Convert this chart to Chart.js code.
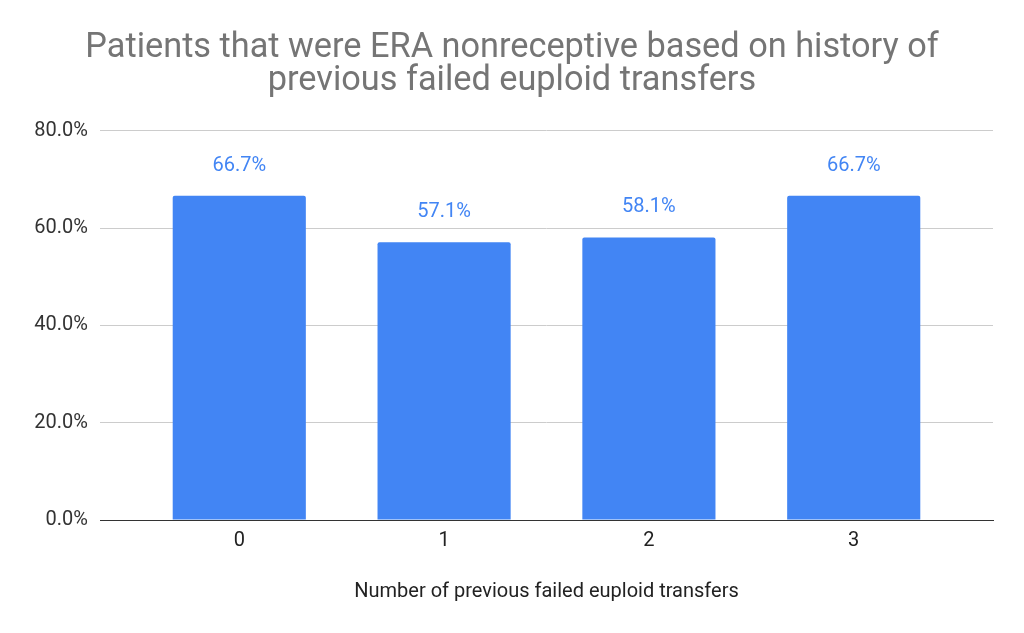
<!DOCTYPE html>
<html>
<head>
<meta charset="utf-8">
<script src="https://cdn.jsdelivr.net/npm/chart.js@4/dist/chart.umd.min.js"></script>
<style>
html,body{margin:0;padding:0;background:#fff;}
#wrap{width:1024px;height:633px;}
</style>
</head>
<body>
<div id="wrap"><canvas id="c" width="1024" height="633"></canvas></div>
<script>
const categories = ["0", "1", "2", "3"];
const values = [66.7, 57.1, 58.1, 66.7];
const valueLabels = ["66.7%", "57.1%", "58.1%", "66.7%"];
const yTicks = [0, 20, 40, 60, 80];

const points = categories.map((c, i) => ({x: i, y: values[i]}));

const labelPlugin = {
  id: 'valueLabels',
  afterDatasetsDraw(chart) {
    const ctx = chart.ctx;
    const meta = chart.getDatasetMeta(0);
    ctx.save();
    ctx.font = '20px Roboto';
    ctx.fillStyle = '#4285F4';
    ctx.textAlign = 'center';
    ctx.textBaseline = 'middle';
    meta.data.forEach((bar, i) => {
      ctx.fillText(valueLabels[i], bar.x, bar.y - 30);
    });
    ctx.restore();
  }
};

new Chart(document.getElementById('c'), {
  type: 'bar',
  data: {
    datasets: [{
      data: points,
      backgroundColor: '#4285F4',
      borderRadius: {topLeft: 2, topRight: 2, bottomLeft: 0, bottomRight: 0},
      borderSkipped: 'bottom',
      categoryPercentage: 0.65,
      barPercentage: 1.0
    }]
  },
  options: {
    responsive: false,
    animation: false,
    devicePixelRatio: 1,
    layout: {padding: {left: 31, right: 31, top: 0, bottom: 29}},
    plugins: {
      legend: {display: false},
      tooltip: {enabled: false},
      title: {
        display: true,
        text: ['Patients that were ERA nonreceptive based on history of', 'previous failed euploid transfers'],
        color: '#757575',
        font: {family: 'Roboto', size: 34.3, weight: 'normal', lineHeight: 0.962},
        padding: {top: 32, bottom: 33}
      }
    },
    scales: {
      x: {
        type: 'linear',
        offset: false,
        min: -0.68, max: 3.68,
        afterBuildTicks(axis) { axis.ticks = categories.map((c, i) => ({value: i})); },
        grid: {display: false, drawTicks: false},
        border: {display: true, color: '#333333', width: 1},
        ticks: {color: '#222222', font: {family: 'Roboto', size: 20}, padding: 9,
          callback: v => categories[v]},
        title: {display: true, text: 'Number of previous failed euploid transfers', color: '#222222', font: {family: 'Roboto', size: 20}, padding: {top: 18, bottom: 0}}
      },
      y: {
        min: 0, max: 80,
        afterBuildTicks(axis) { axis.ticks = yTicks.map(v => ({value: v})); },
        afterFit(axis) { axis.width = 69; },
        grid: {color: '#cccccc', drawTicks: false},
        border: {display: false},
        ticks: {color: '#333333', font: {family: 'Roboto', size: 20}, padding: 12,
          callback: v => v.toFixed(1) + '%'}
      }
    }
  },
  plugins: [labelPlugin]
});
</script>
</body>
</html>
